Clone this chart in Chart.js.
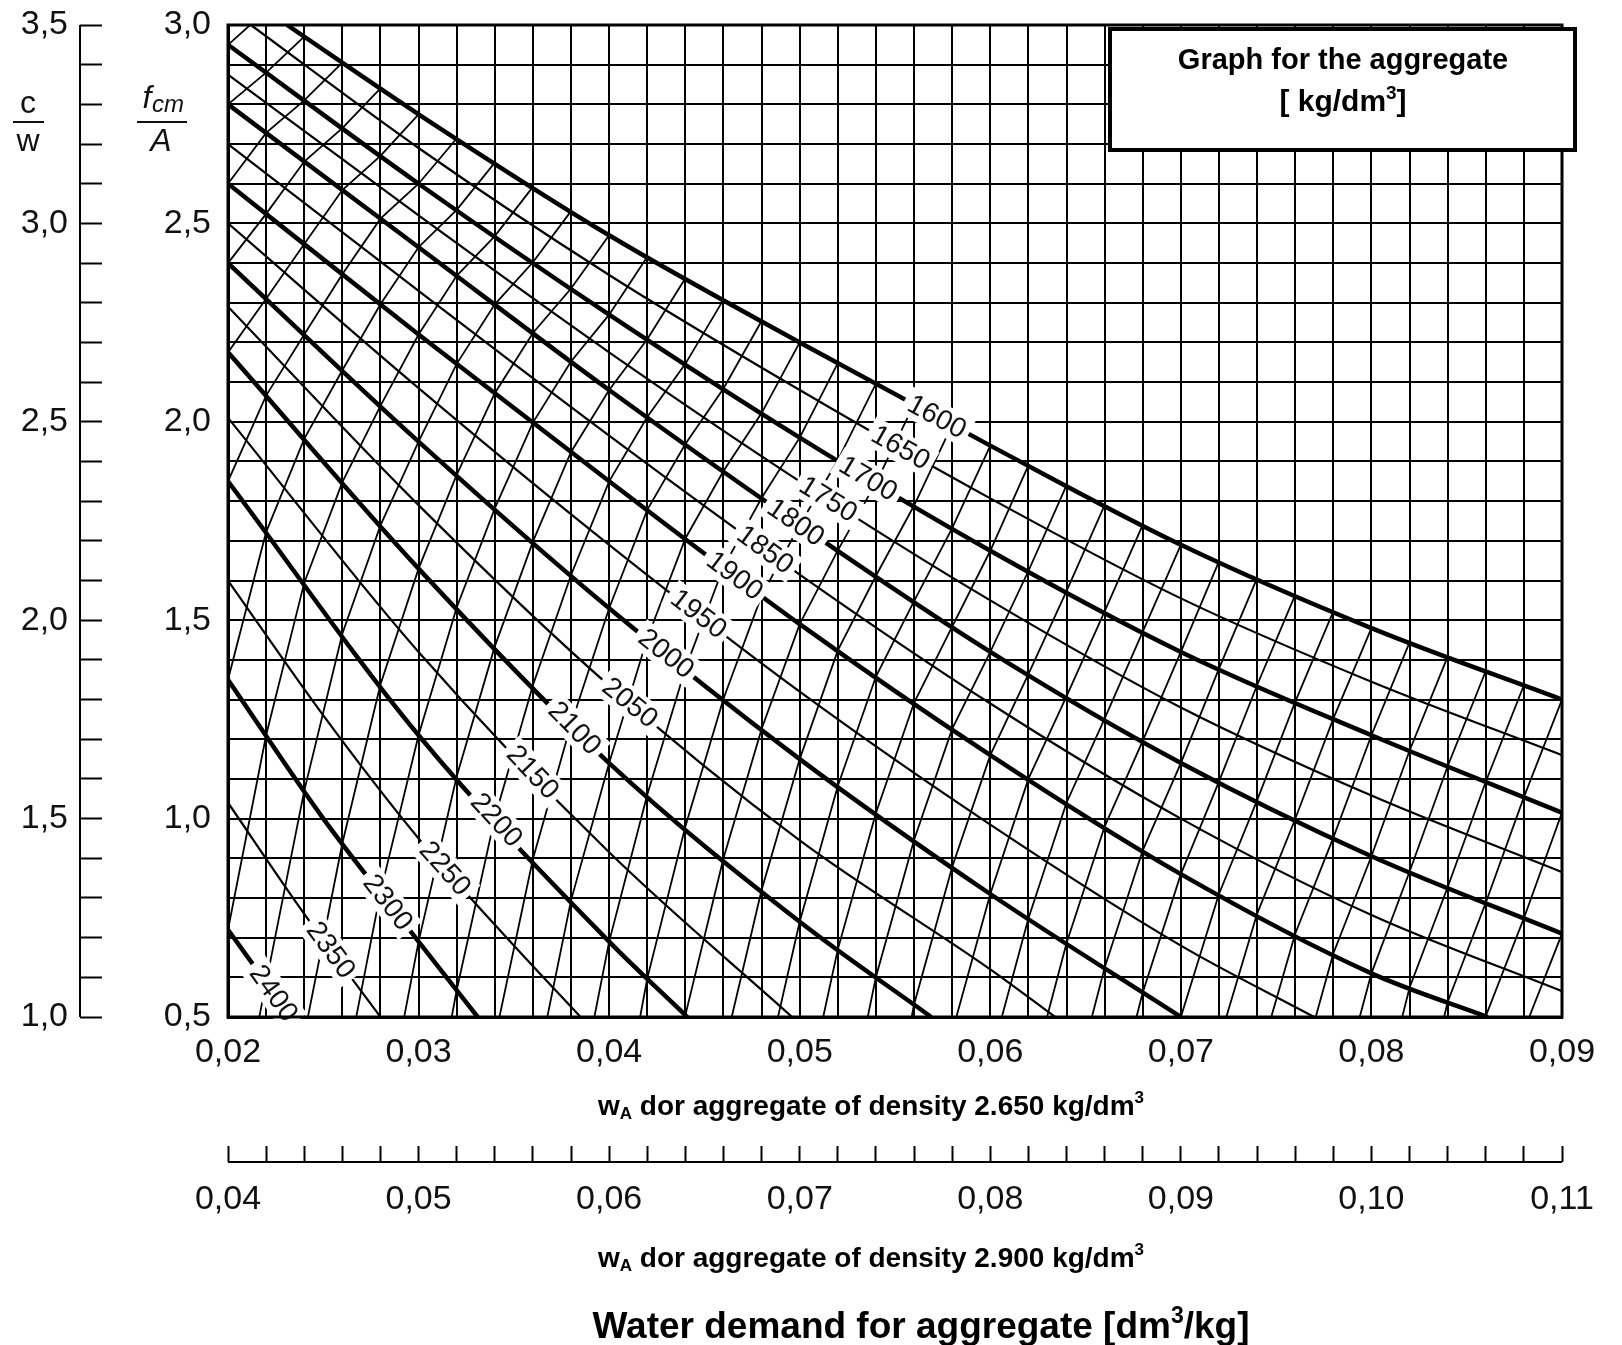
<!DOCTYPE html>
<html>
<head>
<meta charset="utf-8">
<script src="https://cdn.jsdelivr.net/npm/chart.js@4.4.1/dist/chart.umd.min.js"></script>
<style>
html, body { margin: 0; padding: 0; background: #fff; }
#wrap { width: 1622px; height: 1345px; }
</style>
</head>
<body>
<div id="wrap"><canvas id="nomogram" width="1622" height="1345"></canvas></div>
<script>
// axis ranges
const xRange = [0.02, 0.09];    // w_A, aggregate density 2.650
const x2Range = [0.04, 0.11];   // w_A, aggregate density 2.900
const yRange = [0.5, 3.0];      // fcm / A
const y2Range = [1.0, 3.5];     // c / w
const gridStepX = 0.002;
const gridStepY = 0.1;

// density curves, points as [w_A, fcm/A]
const d1600 = [[0.0231, 3.00], [0.03, 2.775], [0.04, 2.47], [0.05, 2.20], [0.06, 1.94], [0.07, 1.69], [0.08, 1.48], [0.09, 1.30]];
const d1650 = [[0.0212, 3.00], [0.03, 2.69], [0.04, 2.37], [0.05, 2.08], [0.06, 1.807], [0.07, 1.555], [0.08, 1.345], [0.09, 1.16]];
const d1700 = [[0.02, 2.95], [0.03, 2.60], [0.04, 2.27], [0.05, 1.96], [0.06, 1.675], [0.07, 1.42], [0.08, 1.21], [0.09, 1.015]];
const d1750 = [[0.02, 2.875], [0.03, 2.52], [0.04, 2.175], [0.05, 1.85], [0.06, 1.55], [0.07, 1.28], [0.08, 1.058], [0.09, 0.865]];
const d1800 = [[0.02, 2.80], [0.03, 2.44], [0.04, 2.08], [0.05, 1.74], [0.06, 1.42], [0.07, 1.14], [0.08, 0.905], [0.09, 0.71]];
const d1850 = [[0.02, 2.70], [0.03, 2.33], [0.04, 1.965], [0.05, 1.615], [0.06, 1.29], [0.07, 1.00], [0.08, 0.757], [0.09, 0.565]];
const d1900 = [[0.02, 2.60], [0.03, 2.22], [0.04, 1.85], [0.05, 1.49], [0.06, 1.16], [0.07, 0.86], [0.08, 0.61], [0.0861, 0.50]];
const d1950 = [[0.02, 2.50], [0.03, 2.085], [0.04, 1.69], [0.05, 1.32], [0.06, 0.985], [0.07, 0.68], [0.077, 0.50]];
const d2000 = [[0.02, 2.40], [0.03, 1.95], [0.04, 1.53], [0.05, 1.15], [0.06, 0.81], [0.07, 0.50]];
const d2050 = [[0.02, 2.29], [0.03, 1.79], [0.04, 1.335], [0.05, 0.945], [0.06, 0.62], [0.0634, 0.50]];
const d2100 = [[0.02, 2.175], [0.03, 1.63], [0.04, 1.14], [0.05, 0.74], [0.0569, 0.50]];
const d2150 = [[0.02, 2.01], [0.03, 1.42], [0.04, 0.915], [0.0496, 0.50]];
const d2200 = [[0.02, 1.85], [0.03, 1.21], [0.04, 0.69], [0.0441, 0.50]];
const d2250 = [[0.02, 1.60], [0.025, 1.26], [0.03, 0.95], [0.035, 0.68], [0.0385, 0.50]];
const d2300 = [[0.02, 1.35], [0.025, 1.00], [0.03, 0.69], [0.0331, 0.50]];
const d2350 = [[0.02, 1.04], [0.024, 0.76], [0.028, 0.50]];
const d2400 = [[0.02, 0.72], [0.0233, 0.50]];

const densities = [1600, 1650, 1700, 1750, 1800, 1850, 1900, 1950, 2000, 2050, 2100, 2150, 2200, 2250, 2300, 2350, 2400];
const curves = [d1600, d1650, d1700, d1750, d1800, d1850, d1900, d1950, d2000, d2050, d2100, d2150, d2200, d2250, d2300, d2350, d2400];
// where the density number sits on each curve (w_A)
const labelX = [0.0572, 0.0553, 0.0536, 0.0515, 0.0498, 0.0482, 0.0466, 0.0447, 0.0430, 0.0411, 0.0382, 0.0360, 0.0341, 0.0314, 0.0284, 0.0254, 0.0224];

const boxLines = ['Graph for the aggregate', '[ kg/dm', '3', ']'];
const axisText1 = ['w', 'A', ' dor aggregate of density 2.650 kg/dm', '3'];
const axisText2 = ['w', 'A', ' dor aggregate of density 2.900 kg/dm', '3'];
const titleText = ['Water demand for aggregate [dm', '3', '/kg]'];

const FONT = '"Liberation Sans", Arial, Helvetica, sans-serif';

function fmt(v, d) { return v.toFixed(d).replace('.', ','); }
function onStep(v, step) { const r = v / step; return Math.abs(r - Math.round(r)) < 1e-6; }

// linear interpolation on a curve, extrapolating past its ends
function curveY(pts, x) {
    let i = 0;
    if (x >= pts[pts.length - 1][0]) i = pts.length - 2;
    else if (x > pts[0][0]) { while (x > pts[i + 1][0]) i++; }
    const [x0, y0] = pts[i], [x1, y1] = pts[i + 1];
    return y0 + (y1 - y0) * (x - x0) / (x1 - x0);
}

// draws a row of text pieces, [text, size, dy], centred on cx with baseline cy
function richText(ctx, parts, cx, cy, weight) {
    let total = 0;
    parts.forEach(p => { ctx.font = weight + ' ' + p[1] + 'px ' + FONT; total += ctx.measureText(p[0]).width; });
    let xx = cx - total / 2;
    ctx.textAlign = 'left';
    ctx.textBaseline = 'alphabetic';
    parts.forEach(p => {
        ctx.font = weight + ' ' + p[1] + 'px ' + FONT;
        ctx.fillText(p[0], xx, cy + p[2]);
        xx += ctx.measureText(p[0]).width;
    });
}

// steep hatch lines: join the 100-step curves, one grid column further left each time
const hatchPlugin = {
    id: 'hatch',
    beforeDatasetsDraw(chart) {
        const {ctx, chartArea: a, scales: {x, y}} = chart;
        const thick = curves.filter((c, i) => densities[i] % 100 === 0);
        ctx.save();
        ctx.beginPath();
        ctx.rect(a.left, a.top, a.right - a.left, a.bottom - a.top);
        ctx.clip();
        ctx.strokeStyle = '#000';
        ctx.lineWidth = 1.8;
        const n = Math.round((xRange[1] - xRange[0]) / gridStepX) + thick.length + 2;
        for (let j = 0; j <= n; j++) {
            const x0 = xRange[0] + j * gridStepX;
            const pts = thick.map((c, k) => [x0 - k * gridStepX, curveY(c, x0 - k * gridStepX)]);
            const last = pts[pts.length - 1], prev = pts[pts.length - 2];
            pts.push([2 * last[0] - prev[0], 2 * last[1] - prev[1]]);
            ctx.beginPath();
            pts.forEach((p, i) => {
                const px = x.getPixelForValue(p[0]), py = y.getPixelForValue(p[1]);
                if (i) ctx.lineTo(px, py); else ctx.moveTo(px, py);
            });
            ctx.stroke();
        }
        ctx.restore();
    }
};

const labelPlugin = {
    id: 'curveLabels',
    afterDatasetsDraw(chart) {
        const {ctx, scales: {x, y}} = chart;
        ctx.save();
        ctx.font = '28px ' + FONT;
        ctx.textAlign = 'center';
        ctx.textBaseline = 'middle';
        densities.forEach((d, i) => {
            const lx = labelX[i], c = curves[i];
            const px = x.getPixelForValue(lx), py = y.getPixelForValue(curveY(c, lx));
            const ax = x.getPixelForValue(lx + 0.001), ay = y.getPixelForValue(curveY(c, lx + 0.001));
            const bx = x.getPixelForValue(lx - 0.001), by = y.getPixelForValue(curveY(c, lx - 0.001));
            const ang = Math.atan2(ay - by, ax - bx);
            const txt = String(d);
            const w = ctx.measureText(txt).width;
            ctx.save();
            ctx.translate(px, py);
            ctx.rotate(ang);
            ctx.fillStyle = '#fff';
            ctx.fillRect(-w / 2 - 5, -15, w + 10, 30);
            ctx.fillStyle = '#111';
            ctx.fillText(txt, 0, 1);
            ctx.restore();
        });
        ctx.restore();
    }
};

const decorPlugin = {
    id: 'decor',
    afterDraw(chart) {
        const {ctx, chartArea: a, scales: {x2, y2}} = chart;
        ctx.save();
        ctx.strokeStyle = '#000';
        ctx.fillStyle = '#111';

        // frame of the plot
        ctx.lineWidth = 3;
        ctx.strokeRect(a.left, a.top, a.right - a.left, a.bottom - a.top);

        // c/w scale line and lower w_A scale line
        ctx.lineWidth = 2;
        ctx.beginPath();
        ctx.moveTo(y2.right - 22, y2.getPixelForValue(y2Range[1]));
        ctx.lineTo(y2.right - 22, y2.getPixelForValue(y2Range[0]));
        ctx.moveTo(x2.getPixelForValue(x2Range[0]), x2.top + 16);
        ctx.lineTo(x2.getPixelForValue(x2Range[1]), x2.top + 16);
        ctx.stroke();

        // axis fractions c/w and fcm/A
        ctx.textAlign = 'center';
        ctx.textBaseline = 'alphabetic';
        ctx.font = '32px ' + FONT;
        ctx.fillText('c', 28, 113);
        ctx.fillText('w', 28, 151);
        ctx.fillRect(13, 121, 31, 2);
        ctx.font = 'italic 32px ' + FONT;
        ctx.fillText('f', 147, 108);
        ctx.font = 'italic 24px ' + FONT;
        ctx.fillText('cm', 168, 112);
        ctx.font = 'italic 32px ' + FONT;
        ctx.fillText('A', 161, 151);
        ctx.fillRect(137, 121, 50, 2);

        // legend box
        ctx.fillStyle = '#fff';
        ctx.fillRect(1110, 29, 465, 121);
        ctx.lineWidth = 4;
        ctx.strokeRect(1110, 29, 465, 121);
        ctx.fillStyle = '#000';
        richText(ctx, [[boxLines[0], 29, 0]], 1343, 69, 'bold');
        richText(ctx, [[boxLines[1], 30, 0], [boxLines[2], 19, -12], [boxLines[3], 30, 0]], 1343, 111, 'bold');

        // texts under the scales
        const sub = t => [[t[0], 28, 0], [t[1], 17, 4], [t[2], 28, 0], [t[3], 17, -12]];
        richText(ctx, sub(axisText1), 871, 1115, 'bold');
        richText(ctx, sub(axisText2), 871, 1267, 'bold');
        richText(ctx, [[titleText[0], 37, 0], [titleText[1], 23, -15], [titleText[2], 37, 0]], 921, 1338, 'bold');
        ctx.restore();
    }
};

const tickFont = {family: FONT, size: 34};
const gridLine = {color: '#000', lineWidth: 2};
// keep the plot edges where the scan has them: no extra room for half labels
const fitV = w => s => { s.width = w; s.paddingTop = 0; s.paddingBottom = 0; };
const fitH = h => s => { s.height = h; s.paddingLeft = 0; s.paddingRight = 0; };

new Chart(document.getElementById('nomogram'), {
    type: 'line',
    data: {
        datasets: curves.map((c, i) => ({
            label: String(densities[i]),
            data: c.map(p => ({x: p[0], y: p[1]})),
            borderColor: '#000',
            borderWidth: densities[i] % 100 === 0 ? 4.5 : 2.2,
            pointRadius: 0,
            cubicInterpolationMode: 'monotone',
            fill: false
        }))
    },
    options: {
        responsive: false,
        maintainAspectRatio: false,
        devicePixelRatio: 1,
        animation: false,
        events: [],
        layout: {padding: {top: 25, right: 60, bottom: 115, left: 0}},
        plugins: {legend: {display: false}, tooltip: {enabled: false}},
        scales: {
            x: {
                type: 'linear', position: 'bottom', weight: 0,
                min: xRange[0], max: xRange[1],
                grid: {...gridLine, drawTicks: false},
                border: {display: true, color: '#000', width: 3},
                ticks: {
                    stepSize: gridStepX, autoSkip: false, maxTicksLimit: 200, maxRotation: 0, minRotation: 0,
                    padding: 15, color: '#111', font: tickFont,
                    callback: v => onStep(v, 0.01) ? fmt(v, 2) : ''
                },
                afterFit: fitH(129)
            },
            x2: {
                type: 'linear', axis: 'x', position: 'bottom', weight: 1,
                min: x2Range[0], max: x2Range[1],
                grid: {drawOnChartArea: false, drawTicks: true, tickLength: 16, tickColor: '#000', tickWidth: 2},
                border: {display: false},
                ticks: {
                    stepSize: gridStepX, autoSkip: false, maxTicksLimit: 200, maxRotation: 0, minRotation: 0,
                    padding: 17, color: '#111', font: tickFont,
                    callback: v => onStep(v, 0.01) ? fmt(v, 2) : ''
                },
                afterFit: fitH(84)
            },
            y: {
                type: 'linear', position: 'left', weight: 0,
                min: yRange[0], max: yRange[1],
                grid: {...gridLine, drawTicks: false},
                border: {display: true, color: '#000', width: 3},
                ticks: {
                    stepSize: gridStepY, autoSkip: false, maxTicksLimit: 200,
                    padding: 17, color: '#111', font: tickFont,
                    callback: v => onStep(v, 0.5) ? fmt(v, 1) : ''
                },
                afterFit: fitV(126)
            },
            y2: {
                type: 'linear', axis: 'y', position: 'left', weight: 1,
                min: y2Range[0], max: y2Range[1],
                grid: {drawOnChartArea: false, drawTicks: true, tickLength: 22, tickColor: '#000', tickWidth: 2},
                border: {display: false},
                ticks: {
                    stepSize: gridStepY, autoSkip: false, maxTicksLimit: 200,
                    padding: 12, color: '#111', font: tickFont,
                    callback: v => onStep(v, 0.5) ? fmt(v, 1) : ''
                },
                afterFit: fitV(102)
            }
        }
    },
    plugins: [hatchPlugin, labelPlugin, decorPlugin]
});
</script>
</body>
</html>
